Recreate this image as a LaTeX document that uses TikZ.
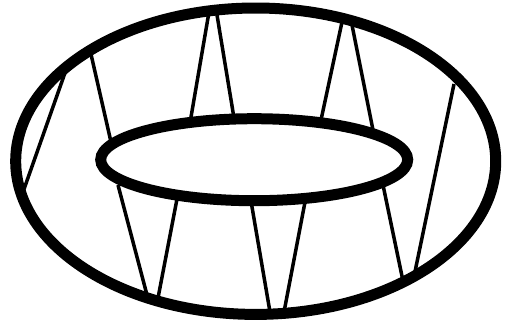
\documentclass[tikz,border=0pt]{standalone}
\begin{document}
\begin{tikzpicture}[x=1pt,y=-1pt,
  ring/.style={draw=black,line width=11pt},
  spoke/.style={draw=black,line width=3.5pt}]
\useasboundingbox (0,0) rectangle (505,327);
\fill[white] (0,0) rectangle (505,327);
\draw[spoke] (66,70) -- (23,192);
\draw[spoke] (90.5,52) -- (111,142);
\draw[spoke] (209,12) -- (190.5,120);
\draw[spoke] (216.5,12) -- (234,118);
\draw[spoke] (342,22) -- (321,120);
\draw[spoke] (352,25) -- (373,130);
\draw[spoke] (454,84) -- (414.5,274);
\draw[spoke] (118,185) -- (147,295);
\draw[spoke] (177,199) -- (158,298);
\draw[spoke] (251.5,204) -- (270,312);
\draw[spoke] (305,202) -- (284,312);
\draw[spoke] (383,185) -- (403,281);
\draw[ring] (255.7,161.2) ellipse [x radius=240,y radius=153.2];
\draw[ring] (254.2,159.7) ellipse [x radius=153.5,y radius=41];
\end{tikzpicture}
\end{document}
